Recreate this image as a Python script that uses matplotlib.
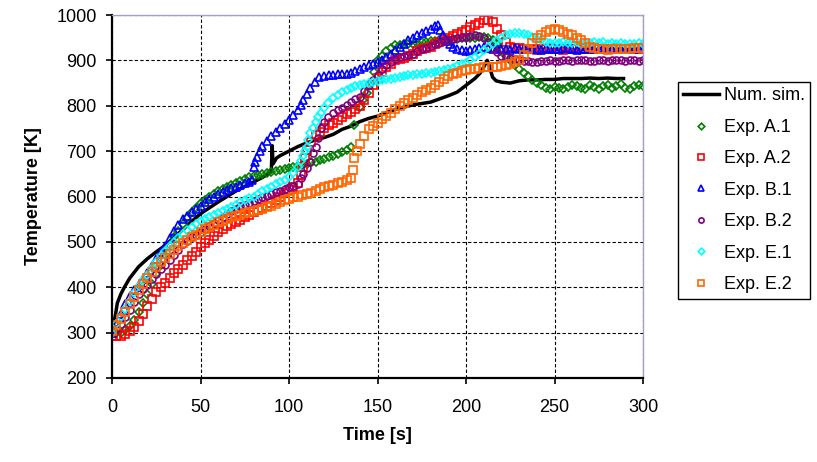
import matplotlib
matplotlib.use("Agg")
import matplotlib.pyplot as plt
import numpy as np

plt.rcParams['font.family'] = ['Liberation Sans', 'DejaVu Sans']


def grid(a, b):
    # time stamps every 2.5 s, both ends included
    return list(np.arange(a, b + 0.1, 2.5))


# numerical simulation
t_sim = [0, 1, 2, 3, 5, 7, 10, 15, 20, 25, 30, 35, 40, 45, 50, 55, 60, 65, 70, 75,
         80, 85, 89, 90, 90.5, 91, 93, 95, 100, 105, 110, 115, 120, 125, 130, 135,
         140, 145, 150, 155, 160, 165, 170, 175, 180, 185, 190, 195, 200, 205, 208,
         210, 212, 213, 215, 217, 220, 225, 230, 235, 240, 245, 250, 255, 260, 265,
         270, 275, 280, 285, 289]
T_sim = [300, 320, 340, 365, 385, 400, 420, 445, 463, 478, 492, 510, 527, 545, 562,
         575, 588, 600, 612, 622, 632, 642, 652, 655, 712, 672, 685, 690, 700, 710,
         718, 725, 730, 737, 748, 755, 765, 772, 777, 785, 792, 797, 802, 805, 808,
         815, 822, 830, 845, 860, 872, 885, 900, 890, 863, 855, 852, 850, 855, 857,
         857, 858, 858, 860, 860, 860, 861, 860, 861, 860, 860]

# Exp. A.1
t_a1 = grid(0, 135) + [137, 140, 142, 144, 146, 148] + grid(150, 300)
T_a1 = [300, 299, 300, 305, 315, 328, 345, 365, 385, 408,
        430, 450, 470, 490, 510, 525, 540, 553, 565, 575,
        585, 593, 600, 606, 612, 616, 620, 626, 630, 634,
        638, 642, 645, 648, 650, 652, 654, 656, 658, 660,
        662, 664, 667, 670, 672, 675, 677, 680, 682, 686,
        690, 694, 698, 703, 708,
        758, 797, 812, 828, 850, 875,
        900, 910, 920, 928, 933, 934, 935, 936, 937, 938,
        940, 940, 942, 943, 945, 946, 947, 948, 948, 949,
        950, 950, 950, 951, 952, 950, 945, 935, 920, 910,
        900, 890, 882, 873, 865, 857, 850, 845, 840, 838,
        842, 840, 838, 842, 845, 843, 840, 836, 846, 842,
        838, 844, 846, 840, 844, 847, 840, 838, 843, 845,
        843]

# Exp. A.2
t_a2 = grid(0, 105) + [106.5, 108, 109, 110, 112.5] + grid(115, 212.5) \
    + [215, 217.5, 220, 222.5] + grid(225, 300)
T_a2 = [293, 292, 293, 296, 303, 312, 325, 340, 358, 375,
        390, 400, 410, 421, 432, 441, 450, 459, 468, 478,
        488, 497, 505, 514, 522, 529, 535, 539, 543, 549,
        555, 560, 565, 570, 575, 580, 585, 592, 600, 607,
        615, 622, 630,
        648, 665, 685, 703, 720,
        735, 743, 750, 757, 763, 769, 775, 781, 787, 793,
        800, 812, 828, 845, 862, 875, 885, 893, 900, 902,
        905, 910, 915, 920, 925, 928, 930, 935, 940, 945,
        950, 954, 958, 963, 968, 973, 978, 983, 988, 990,
        985, 970, 955, 940,
        930, 928, 928, 925, 925, 924, 922, 925, 925, 927,
        925, 926, 923, 925, 926, 925, 924, 926, 925, 927,
        925, 924, 926, 925, 927, 925, 926, 924, 925, 927,
        925]

# Exp. B.1
t_b1 = grid(0, 77.5) + [79, 80, 81, 82, 83.5, 85, 87.5, 90, 92.5, 95, 97.5, 100,
                        102.5, 105, 106.5, 108, 110, 112, 114.5, 117] \
    + grid(120, 182.5) + [184, 185.5, 187, 189, 191] + grid(192.5, 300)
T_b1 = [300, 322, 340, 362, 380, 393, 405, 418, 432, 447,
        462, 477, 492, 508, 525, 538, 550, 558, 565, 572,
        580, 588, 595, 600, 605, 610, 615, 618, 622, 626,
        630, 633,
        636, 665, 676, 688, 700, 712, 722, 733, 742, 752,
        760, 768, 779, 790, 802, 813, 826, 840, 852, 863,
        866, 867, 868, 869, 870, 871, 873, 876, 880, 885,
        890, 893, 897, 900, 907, 915, 922, 930, 937, 945,
        950, 955, 960, 965, 970, 975,
        978, 968, 955, 942, 935,
        930, 925, 922, 920, 922, 925, 928, 930, 928, 925,
        927, 924, 926, 923, 927, 925, 928, 924, 926, 925,
        923, 927, 925, 926, 924, 927, 928, 925, 923, 926,
        924, 927, 925, 926, 928, 924, 925, 927, 926, 924,
        926, 925, 927, 928]

# Exp. B.2
t_b2 = grid(0, 105) + [106.5, 108, 110, 112, 113.5, 115, 116.5, 118, 120, 122] \
    + grid(125, 300)
T_b2 = [300, 308, 320, 335, 350, 368, 385, 396, 405, 418,
        430, 440, 450, 460, 470, 483, 495, 503, 510, 516,
        522, 528, 535, 541, 548, 555, 562, 568, 573, 578,
        582, 586, 590, 594, 598, 602, 606, 610, 613, 617,
        620, 624, 628,
        640, 650, 663, 677, 695, 710, 730, 750, 765, 775,
        785, 790, 795, 802, 808, 814, 820, 832, 845, 857,
        868, 880, 890, 897, 903, 907, 910, 912, 915, 920,
        925, 928, 932, 935, 938, 942, 945, 948, 950, 951,
        952, 954, 955, 953, 950, 940, 925, 918, 910, 907,
        905, 902, 900, 899, 898, 897, 897, 898, 899, 900,
        898, 899, 900, 901, 899, 900, 901, 900, 898, 899,
        900, 901, 899, 900, 901, 900, 899, 901, 900, 899,
        901]

# Exp. E.1
t_e1 = grid(0, 102.5) + [105, 106.5, 108, 109, 110, 111, 112, 113.5, 115, 116.5,
                         118, 120, 122] + grid(125, 300)
T_e1 = [300, 318, 335, 353, 370, 387, 402, 415, 428, 442,
        455, 468, 480, 490, 500, 509, 518, 526, 533, 539,
        545, 550, 555, 559, 563, 568, 572, 577, 582, 587,
        592, 596, 600, 606, 612, 617, 622, 627, 632, 637,
        643, 652,
        665, 678, 690, 700, 708, 724, 740, 752, 765, 775,
        785, 796, 806,
        818, 824, 830, 835, 840, 843, 845, 848, 850, 853,
        855, 857, 858, 860, 862, 863, 865, 867, 868, 869,
        870, 872, 873, 875, 876, 878, 880, 883, 887, 891,
        895, 901, 908, 915, 922, 930, 937, 944, 950, 955,
        958, 960, 960, 958, 955, 952, 948, 944, 940, 939,
        938, 939, 940, 938, 938, 941, 937, 938, 939, 940,
        938, 940, 936, 938, 937, 938, 935, 937, 936, 938,
        937]

# Exp. E.2
t_e2 = grid(0, 135) + [136, 137, 138.5, 140, 142.5] + grid(145, 300)
T_e2 = [303, 316, 330, 345, 362, 378, 395, 408, 420, 433,
        445, 455, 465, 474, 483, 490, 497, 504, 510, 516,
        522, 528, 533, 538, 543, 547, 550, 554, 557, 560,
        563, 566, 568, 571, 573, 577, 580, 584, 588, 592,
        595, 598, 600, 603, 605, 608, 612, 616, 620, 623,
        626, 629, 632, 636, 640,
        658, 685, 700, 715, 733,
        748, 755, 762, 770, 778, 785, 792, 799, 806, 812,
        818, 824, 830, 835, 840, 846, 852, 858, 865, 869,
        873, 876, 878, 880, 882, 884, 885, 885, 885, 886,
        888, 890, 893, 897, 900, 912, 925, 938, 950, 957,
        963, 968, 970, 966, 962, 958, 955, 950, 945, 938,
        930, 927, 925, 924, 923, 924, 925, 925, 925, 926,
        927, 928, 928]

fig = plt.figure(figsize=(8.17, 4.62), dpi=100)
ax = fig.add_axes([112 / 817, 1 - 378 / 462, 531 / 817, 363 / 462])

ax.plot(t_sim, T_sim, color='black', lw=2.5, label='Num. sim.')
mk = dict(ls='none', mfc='none', mew=1.2)
ax.plot(t_a1, T_a1, marker='D', ms=4.5, mec='#008000', label='Exp. A.1', **mk)
ax.plot(t_a2, T_a2, marker='s', ms=5.5, mec='#FF0000', label='Exp. A.2', **mk)
ax.plot(t_b1, T_b1, marker='^', ms=6, mec='#0000FF', label='Exp. B.1', **mk)
ax.plot(t_b2, T_b2, marker='o', ms=5, mec='#800080', label='Exp. B.2', **mk)
ax.plot(t_e1, T_e1, marker='D', ms=4.5, mec='#00FFFF', label='Exp. E.1', **mk)
ax.plot(t_e2, T_e2, marker='s', ms=5.5, mec='#FF6600', label='Exp. E.2', **mk)

ax.set_xlim(0, 300)
ax.set_ylim(200, 1000)
ax.set_xticks(range(0, 301, 50))
ax.set_yticks(range(200, 1001, 100))
ax.grid(True, color='black', ls=(0, (3, 2)), lw=0.8)
ax.set_axisbelow(True)
ax.tick_params(axis='both', direction='out', length=4, width=1.2, labelsize=13,
               color='black')
ax.tick_params(axis='x', pad=11)
ax.tick_params(axis='y', pad=7)
for s in ['left', 'bottom']:
    ax.spines[s].set_linewidth(1.6)
    ax.spines[s].set_color('black')
for s in ['top', 'right']:
    ax.spines[s].set_linewidth(1.0)
    ax.spines[s].set_color('#A0A0C8')

ax.set_xlabel('Time [s]', fontsize=13, fontweight='bold', labelpad=8)
ax.set_ylabel('Temperature [K]', fontsize=13, fontweight='bold', labelpad=10)

leg = ax.legend(loc='upper left', bbox_to_anchor=(678 / 817, 1 - 82 / 462),
                bbox_transform=fig.transFigure, borderaxespad=0, fontsize=13,
                frameon=True, fancybox=False, edgecolor='black', framealpha=1,
                handlelength=1.95, handletextpad=0.3, labelspacing=0.8,
                borderpad=0.3, markerscale=0.75)
leg.get_frame().set_linewidth(1.0)

fig.savefig('out.png', dpi=100)
